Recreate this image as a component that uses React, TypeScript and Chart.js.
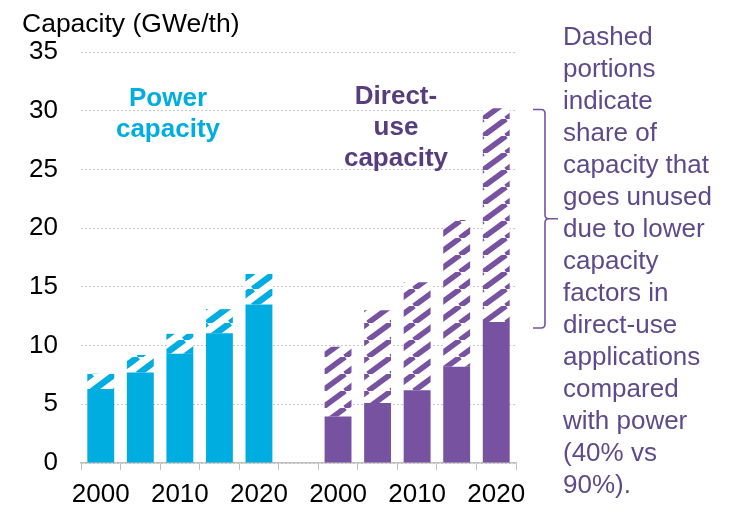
import React, { useEffect, useRef } from "react";
import { Chart, registerables } from "chart.js";

Chart.register(...registerables);

const categories = ["2000", "2005", "2010", "2015", "2020", "", "2000", "2005", "2010", "2015", "2020"];
const xTickLabels = ["2000", "", "2010", "", "2020", "", "2000", "", "2010", "", "2020"];
const powerUsed = [6.3, 7.7, 9.3, 11.05, 13.5];
const powerTotal = [7.6, 9.2, 11.0, 13.1, 16.1];
const directUsed = [3.95, 5.1, 6.2, 8.2, 12.0];
const directTotal = [9.9, 13.0, 15.4, 20.7, 30.2];
const yTicks = [0, 5, 10, 15, 20, 25, 30, 35];
const bracketRange = [11.5, 30.1];

const BLUE = "#00ADE0";
const PURPLE = "#7652A0";
const TEXT_PURPLE = "#5E4A8A";
const LABEL_PURPLE = "#573D7D";
const FONT = "'Liberation Sans', Arial, sans-serif";

function makePattern(color: string, lw: number): CanvasPattern | string {
  const w = 23;
  const h = 17;
  const c = document.createElement("canvas");
  c.width = w;
  c.height = h;
  const ctx = c.getContext("2d");
  if (!ctx) return color;
  ctx.fillStyle = "#ffffff";
  ctx.fillRect(0, 0, w, h);
  ctx.strokeStyle = color;
  ctx.lineWidth = lw;
  for (let k = -1; k <= 1; k++) {
    ctx.beginPath();
    ctx.moveTo(k * w, h);
    ctx.lineTo(k * w + w, 0);
    ctx.stroke();
  }
  const p = ctx.createPattern(c, "repeat");
  return p || color;
}

const bracketPlugin = {
  id: "bracket",
  afterDraw(chart: any) {
    const ctx = chart.ctx;
    const y = chart.scales.y;
    const yTop = y.getPixelForValue(bracketRange[1]);
    const yBot = y.getPixelForValue(bracketRange[0]);
    const yMid = (yTop + yBot) / 2;
    const x = chart.chartArea.right + 29;
    ctx.save();
    ctx.strokeStyle = PURPLE;
    ctx.lineWidth = 1.6;
    ctx.beginPath();
    ctx.moveTo(x - 12, yTop);
    ctx.lineTo(x - 4, yTop);
    ctx.quadraticCurveTo(x, yTop, x, yTop + 4);
    ctx.lineTo(x, yMid - 4);
    ctx.quadraticCurveTo(x, yMid, x + 4, yMid);
    ctx.lineTo(x + 13, yMid);
    ctx.moveTo(x + 4, yMid);
    ctx.quadraticCurveTo(x, yMid, x, yMid + 4);
    ctx.lineTo(x, yBot - 4);
    ctx.quadraticCurveTo(x, yBot, x - 4, yBot);
    ctx.lineTo(x - 12, yBot);
    ctx.stroke();
    ctx.restore();
  },
};

export default function App() {
  const ref = useRef<HTMLCanvasElement | null>(null);

  useEffect(() => {
    document.body.style.margin = "0";
    if (!ref.current) return;
    const blueHatch = makePattern(BLUE, 6.5);
    const purpleHatch = makePattern(PURPLE, 5.5);
    const used = [...powerUsed, null, ...directUsed];
    const unused = [
      ...powerTotal.map((t, i) => +(t - powerUsed[i]).toFixed(2)),
      null,
      ...directTotal.map((t, i) => +(t - directUsed[i]).toFixed(2)),
    ];
    const usedColors = categories.map((_, i) => (i < 5 ? BLUE : PURPLE));
    const unusedColors = categories.map((_, i) => (i < 5 ? blueHatch : purpleHatch));

    const chart = new Chart(ref.current, {
      type: "bar",
      data: {
        labels: categories,
        datasets: [
          {
            label: "Used capacity",
            data: used,
            backgroundColor: usedColors,
            borderWidth: 0,
            barPercentage: 0.68,
            categoryPercentage: 1,
          },
          {
            label: "Unused capacity",
            data: unused,
            backgroundColor: unusedColors as any,
            borderWidth: 0,
            barPercentage: 0.68,
            categoryPercentage: 1,
          },
        ],
      },
      options: {
        animation: false,
        responsive: true,
        maintainAspectRatio: false,
        layout: { padding: { top: 52, right: 217, left: 0, bottom: 0 } },
        plugins: {
          legend: { display: false },
          tooltip: { enabled: false },
        },
        scales: {
          x: {
            stacked: true,
            afterFit(scale: any) {
              scale.height = 44;
            },
            grid: {
              display: true,
              drawOnChartArea: false,
              drawTicks: true,
              tickLength: 7,
              color: "#BFBFBF",
              offset: true,
            },
            border: { display: true, color: "#BFBFBF", width: 1.5 },
            ticks: {
              autoSkip: false,
              maxRotation: 0,
              padding: 9,
              color: "#000000",
              font: { family: FONT, size: 26 },
              callback: (_v: any, i: number) => xTickLabels[i],
            },
          },
          y: {
            stacked: true,
            min: 0,
            max: 35,
            afterFit(scale: any) {
              scale.width = 81;
            },
            afterBuildTicks(scale: any) {
              scale.ticks = yTicks.map((v) => ({ value: v }));
            },
            grid: {
              display: true,
              drawTicks: false,
              color: "#C8C8C8",
              lineWidth: 1,
            },
            border: { display: false, dash: [2, 2] },
            ticks: {
              padding: 23,
              color: "#000000",
              font: { family: FONT, size: 26 },
            },
          },
        },
      },
      plugins: [bracketPlugin],
    });
    return () => chart.destroy();
  }, []);

  const textBase: React.CSSProperties = {
    position: "absolute",
    fontFamily: FONT,
    fontSize: 26,
    whiteSpace: "pre",
    margin: 0,
  };

  return (
    <div style={{ position: "fixed", left: 0, top: 0, width: 733, height: 507, background: "#fff" }}>
      <canvas ref={ref} style={{ position: "absolute", left: 0, top: 0 }} />
      <div style={{ ...textBase, left: 22, top: 8, lineHeight: "30px", fontSize: 26.5, color: "#000" }}>Capacity (GWe/th)</div>
      <div
        style={{
          ...textBase,
          left: 168 - 100,
          width: 200,
          top: 82,
          lineHeight: "31px",
          textAlign: "center",
          fontWeight: "bold",
          color: BLUE,
        }}
      >
        {"Power\ncapacity"}
      </div>
      <div
        style={{
          ...textBase,
          left: 396 - 100,
          width: 200,
          top: 80,
          lineHeight: "31px",
          textAlign: "center",
          fontWeight: "bold",
          color: LABEL_PURPLE,
        }}
      >
        {"Direct-\nuse\ncapacity"}
      </div>
      <div
        style={{
          ...textBase,
          left: 563,
          top: 20,
          lineHeight: "32px",
          color: TEXT_PURPLE,
        }}
      >
        {"Dashed\nportions\nindicate\nshare of\ncapacity that\ngoes unused\ndue to lower\ncapacity\nfactors in\ndirect-use\napplications\ncompared\nwith power\n(40% vs\n90%)."}
      </div>
    </div>
  );
}
